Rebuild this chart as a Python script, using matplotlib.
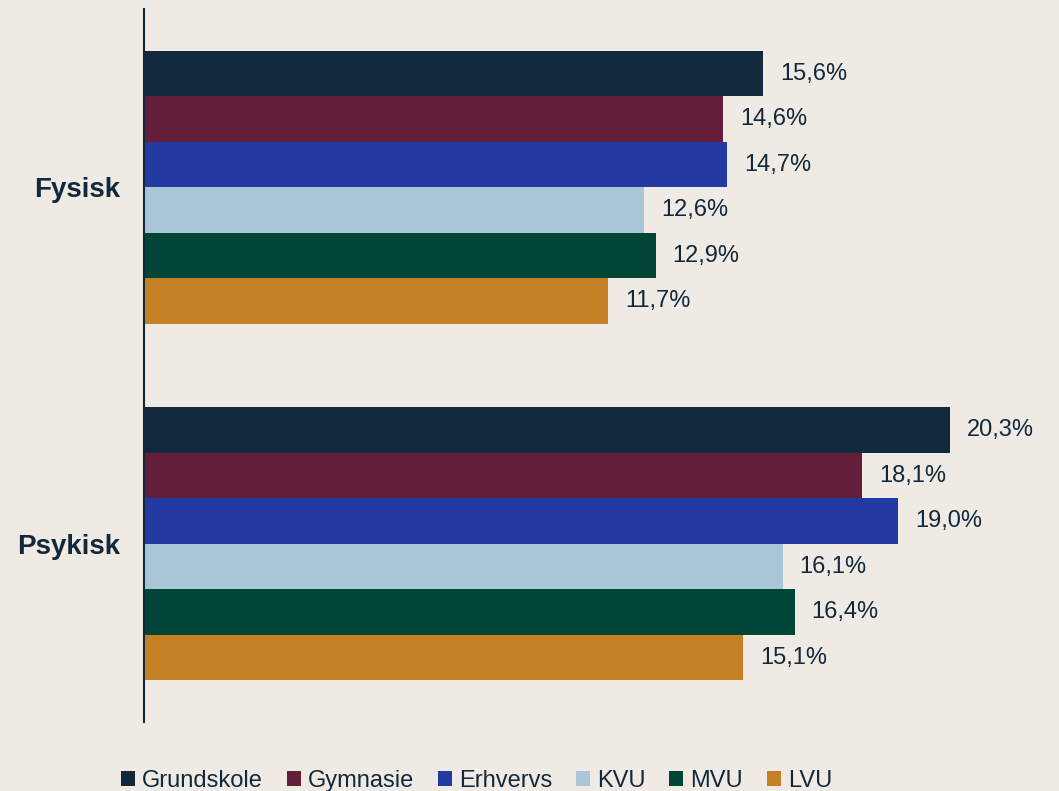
import matplotlib.pyplot as plt
import numpy as np

plt.rcParams["font.family"] = ["Liberation Sans", "DejaVu Sans"]

categories = ["Fysisk", "Psykisk"]
series = ["Grundskole", "Gymnasie", "Erhvervs", "KVU", "MVU", "LVU"]
values = {
    "Grundskole": [15.6, 20.3],
    "Gymnasie": [14.6, 18.1],
    "Erhvervs": [14.7, 19.0],
    "KVU": [12.6, 16.1],
    "MVU": [12.9, 16.4],
    "LVU": [11.7, 15.1],
}
colors = ["#12283c", "#631e3c", "#233ba0", "#a8c6d6", "#004536", "#c38024"]

bg = "#efebe4"
txt = "#12283c"

fig = plt.figure(figsize=(10.59, 7.91), dpi=100, facecolor=bg)
ax = fig.add_axes([0.136, 0.087, 0.862, 0.9015])
ax.set_facecolor(bg)

y = np.arange(len(categories))
group_w = 0.766
bar_h = group_w / len(series)
for i, (name, col) in enumerate(zip(series, colors)):
    pos = y - group_w / 2 + bar_h * (i + 0.5)
    bars = ax.barh(pos, values[name], height=bar_h, color=col, label=name)
    for b, v in zip(bars, values[name]):
        ax.annotate(f"{v:.1f}%".replace(".", ","), (v, b.get_y() + b.get_height() / 2),
                    xytext=(12, 0), textcoords="offset points",
                    va="center", ha="left", fontsize=17, color=txt)

ax.set_ylim(1.5, -0.5)
ax.set_xlim(0, 23)
ax.set_yticks(y)
ax.set_yticklabels(categories, fontsize=20, fontweight="bold", color=txt)
ax.tick_params(axis="y", length=0, pad=17)
ax.set_xticks([])
for s in ["top", "right", "bottom"]:
    ax.spines[s].set_visible(False)
ax.spines["left"].set_color(txt)
ax.spines["left"].set_linewidth(1.5)

fig.legend(loc="center", bbox_to_anchor=(0.45, 0.013), ncol=6, frameon=False,
           fontsize=17, labelcolor=txt, handlelength=0.6, handleheight=0.6,
           handletextpad=0.3, columnspacing=1.0)

fig.savefig("out.png", dpi=100, facecolor=bg)
